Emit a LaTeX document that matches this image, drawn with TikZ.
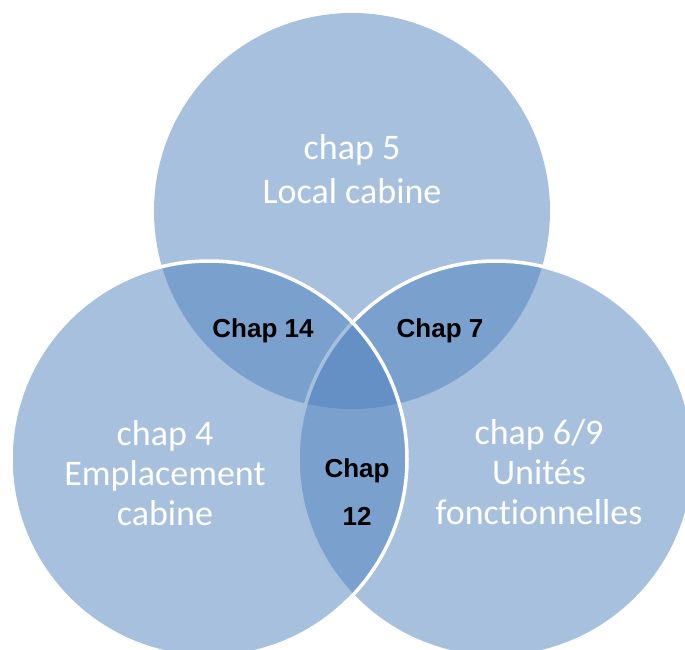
\documentclass[tikz,border=0pt]{standalone}
\usepackage{fontspec}
\setmainfont{Carlito}[Ligatures=NoCommon]
\newfontfamily\arialfont{Liberation Sans}
\usepackage{tikz}
\usetikzlibrary{positioning}
\definecolor{vennblue}{RGB}{79,129,189}
\tikzset{venn circle/.style={circle,fill=vennblue,fill opacity=0.5,minimum size=396pt,inner sep=0pt},
	rim/.style={draw=white,line width=3.5pt},
	chap label/.style={text=white,align=center,inner sep=0pt,font=\fontsize{36}{40}\selectfont},
	inter label/.style={text=black,align=center,inner sep=0pt,font=\arialfont\bfseries\fontsize{26}{48}\selectfont},}

\begin{document}
\begin{tikzpicture}[x=1pt, y=-1pt]
	\useasboundingbox (0,0) rectangle (685,650);
	% the three circles
	\node[venn circle] (c5) at (352,211) {};
	\node[venn circle, rim] (c69) at (496,459) {};
	\node[venn circle, rim] (c4) at (209,459) {};

	% labels
	\node[chap label, font=\fontsize{36}{44}\selectfont] (t5) at (352,169) {chap 5\\Local cabine};
	\node[chap label] (t4) at (165,473) {chap 4\\Emplacement\\cabine};
	\node[chap label] (t69) at (539,472) {chap 6/9\\Unités\\fonctionnelles};
	\node[inter label] (t14) at (263,331) {Chap 14};
	\node[inter label] (t7) at (440,331) {Chap 7};
	\node[inter label] (t12) at (357,492) {Chap\\12};
\end{tikzpicture}
\end{document}
